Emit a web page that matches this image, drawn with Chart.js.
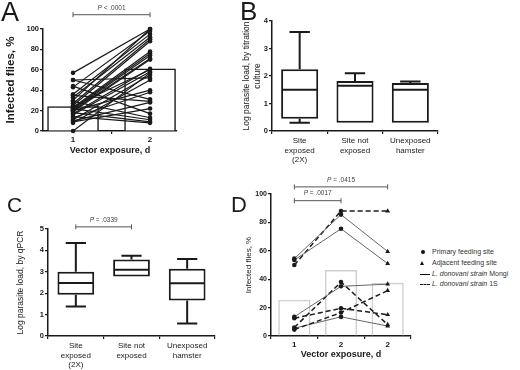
<!DOCTYPE html>
<html>
<head>
<meta charset="utf-8">
<script src="https://cdn.jsdelivr.net/npm/chart.js@4.4.1/dist/chart.umd.min.js"></script>
<style>
  html, body { margin: 0; padding: 0; background: #fff; }
  #wrap { position: relative; width: 520px; height: 370px; overflow: hidden; font-family: "Liberation Sans", Arial, sans-serif; color: #1a1a1a; }
  canvas { position: absolute; }
  .letter { position: absolute; line-height: 1; font-weight: normal; }
  .lg { position: absolute; left: 419px; height: 10px; line-height: 10px; font-size: 7px; white-space: nowrap; color: #333; }
  .lg .mk { display: inline-block; width: 13px; position: relative; height: 10px; vertical-align: top; }
  .dot { position: absolute; left: 2px; top: 3px; width: 4px; height: 4px; border-radius: 50%; background: #111; }
  .tri { position: absolute; left: 1px; top: 2.5px; width: 0; height: 0; border-left: 2.5px solid transparent; border-right: 2.5px solid transparent; border-bottom: 4.5px solid #111; }
  .solid { position: absolute; left: 1px; top: 4.5px; width: 10px; border-top: 1.5px solid #111; }
  .dash { position: absolute; left: 1px; top: 4.5px; width: 10px; border-top: 1.5px dashed #111; }
</style>
</head>
<body>
<div id="wrap">
  <canvas id="chartA" width="200" height="158" style="left:0;top:0"></canvas>
  <canvas id="chartB" width="240" height="172" style="left:238px;top:0"></canvas>
  <canvas id="chartC" width="240" height="190" style="left:0;top:180px"></canvas>
  <canvas id="chartD" width="176" height="190" style="left:240px;top:172px"></canvas>

  <div class="letter" style="left:1px;top:-1px;font-size:27px">A</div>
  <div class="letter" style="left:240px;top:-2px;font-size:26px">B</div>
  <div class="letter" style="left:7px;top:194px;font-size:21px">C</div>
  <div class="letter" style="left:231px;top:194px;font-size:22px">D</div>

  <div class="lg" style="top:247px"><span class="mk"><span class="dot"></span></span>Primary feeding site</div>
  <div class="lg" style="top:258px"><span class="mk"><span class="tri"></span></span>Adjacent feeding site</div>
  <div class="lg" style="top:269px"><span class="mk"><span class="solid"></span></span><i>L. donovani strain</i> Mongi</div>
  <div class="lg" style="top:279px"><span class="mk"><span class="dash"></span></span><i>L. donovani strain</i> 1S</div>
</div>

<script>
// ---- Panel A: paired infection rates ----
const daysA = [1, 2];
const barA = [24, 61];
const day1A = [57, 50, 50, 44, 43, 36, 35, 33, 30, 29, 27, 25, 24, 23, 22, 22, 21, 20, 20, 19, 18, 17, 16, 14, 13, 11, 10, 9, 8, 0];
const day2A = [100, 52, 31, 17, 98, 95, 29, 92, 100, 13, 90, 88, 60, 78, 76, 11, 74, 71, 40, 70, 9, 61, 58, 8, 38, 55, 28, 22, 50, 57];
const yTicksA = [0, 20, 40, 60, 80, 100];

// ---- Panel B: titration culture box plots ----
const groupsB = [['Site', 'exposed', '(2X)'], ['Site not', 'exposed'], ['Unexposed', 'hamster']];
const minB = [0.3, 0.3, 0.3];
const q1B = [0.45, 0.3, 0.3];
const medB = [1.5, 1.65, 1.5];
const q3B = [2.25, 1.82, 1.75];
const maxB = [3.6, 2.1, 1.8];
const yTicksB = [0, 1, 2, 3, 4];

// ---- Panel C: qPCR box plots ----
const groupsC = [['Site', 'exposed', '(2X)'], ['Site not', 'exposed'], ['Unexposed', 'hamster']];
const minC = [1.38, 2.78, 0.58];
const q1C = [1.93, 2.78, 1.66];
const medC = [2.48, 3.09, 2.46];
const q3C = [3.0, 3.57, 3.14];
const maxC = [4.35, 3.75, 3.6];
const yTicksC = [0, 1, 2, 3, 4, 5];

// ---- Panel D: feeding sites by strain ----
const daysD = ['1', '2', '2'];
const barD = [25.5, 46.5, 37.5];
const linesD = [
  [54.5, 85.5, 59.5],
  [53.5, 75.5, 51],
  [50, 88, 88],
  [13.5, 35, 36.5],
  [6, 38, 8],
  [12.5, 19.5, 15],
  [4.5, 16.5, 32],
  [5.5, 13.5, 7]
];
const strainD = ['Mongi', 'Mongi', '1S', 'Mongi', '1S', '1S', '1S', 'Mongi'];
const siteD = ['circle', 'circle', 'triangle'];
const yTicksD = [0, 20, 40, 60, 80, 100];

// p-value brackets: [from, to, y value, label]
const pA = [[1, 2, 114, '< .0001']];
const pC = [[0, 1, 5.1, '= .0339']];
const pD = [[0, 1, 95.3, '= .0017'], [0, 2, 105, '= .0415']];

Chart.defaults.font.family = '"Liberation Sans", Arial, sans-serif';
Chart.defaults.color = '#1a1a1a';
Chart.defaults.animation = false;

const ink = '#1a1a1a';

function axis(tickSize, extra) {
  return Object.assign({
    ticks: { font: { size: tickSize, weight: 'bold' }, color: ink, padding: 1 },
    grid: { drawOnChartArea: false, drawTicks: true, tickLength: 3, color: ink, lineWidth: 1.2 },
    border: { display: true, color: ink, width: 1.5 }
  }, extra);
}

const setTicks = arr => s => { s.ticks = arr.map(v => ({ value: v })); };

const brackets = {
  id: 'brackets',
  afterDraw(chart, args, opts) {
    const { ctx } = chart;
    const x = chart.scales.x, y = chart.scales.y;
    (opts.items || []).forEach(([from, to, at, txt]) => {
      const x1 = x.getPixelForValue(from), x2 = x.getPixelForValue(to), yy = y.getPixelForValue(at);
      ctx.save();
      ctx.strokeStyle = '#555';
      ctx.lineWidth = 1;
      ctx.beginPath();
      ctx.moveTo(x1, yy - 2.5); ctx.lineTo(x1, yy + 2.5);
      ctx.moveTo(x1, yy); ctx.lineTo(x2, yy);
      ctx.moveTo(x2, yy - 2.5); ctx.lineTo(x2, yy + 2.5);
      ctx.stroke();
      // italic P then the rest
      ctx.fillStyle = '#444';
      ctx.textBaseline = 'middle';
      const f = '"Liberation Sans", Arial, sans-serif';
      ctx.font = 'italic 6.5px ' + f;
      const wP = ctx.measureText('P ').width;
      ctx.font = '6.5px ' + f;
      const wR = ctx.measureText(txt).width;
      let sx = (x1 + x2) / 2 - (wP + wR) / 2;
      ctx.font = 'italic 6.5px ' + f;
      ctx.fillText('P ', sx, yy - 7);
      ctx.font = '6.5px ' + f;
      ctx.fillText(txt, sx + wP, yy - 7);
      ctx.restore();
    });
  }
};

const whiskers = {
  id: 'whiskers',
  afterDatasetsDraw(chart, args, opts) {
    if (!opts.med) return;
    const { ctx } = chart;
    const y = chart.scales.y;
    const meta = chart.getDatasetMeta(0);
    meta.data.forEach((bar, i) => {
      const half = bar.width / 2, cap = half * 0.55;
      const yMed = y.getPixelForValue(opts.med[i]);
      const yQ1 = y.getPixelForValue(opts.q1[i]), yQ3 = y.getPixelForValue(opts.q3[i]);
      const yMin = y.getPixelForValue(opts.min[i]), yMax = y.getPixelForValue(opts.max[i]);
      ctx.save();
      ctx.strokeStyle = ink;
      ctx.lineWidth = 2;
      ctx.beginPath();
      ctx.moveTo(bar.x - half + 1, yMed); ctx.lineTo(bar.x + half - 1, yMed);
      if (yMax < yQ3 - 0.5) {
        ctx.moveTo(bar.x, yQ3); ctx.lineTo(bar.x, yMax);
        ctx.moveTo(bar.x - cap, yMax); ctx.lineTo(bar.x + cap, yMax);
      }
      if (yMin > yQ1 + 0.5) {
        ctx.moveTo(bar.x, yQ1); ctx.lineTo(bar.x, yMin);
        ctx.moveTo(bar.x - cap, yMin); ctx.lineTo(bar.x + cap, yMin);
      }
      ctx.stroke();
      ctx.restore();
    });
  }
};

const noLegend = { legend: { display: false }, tooltip: { enabled: false } };

// Panel A
new Chart(document.getElementById('chartA'), {
  type: 'bar',
  data: {
    datasets: [
      ...day1A.map((v, i) => ({
        type: 'line',
        data: [{ x: daysA[0], y: v }, { x: daysA[1], y: day2A[i] }],
        borderColor: ink, borderWidth: 1.2,
        pointRadius: 2.3, pointBackgroundColor: ink, pointBorderColor: ink, pointBorderWidth: 0,
        clip: false, order: 0
      })),
      {
        type: 'bar',
        data: daysA.map((d, i) => ({ x: d, y: barA[i] })),
        barThickness: 51, backgroundColor: '#fff', borderColor: ink, borderWidth: 1.5,
        order: 1
      }
    ]
  },
  options: {
    responsive: false,
    layout: { padding: { top: 29, right: 23, left: 0, bottom: 0 } },
    plugins: Object.assign({ brackets: { items: pA } }, noLegend),
    scales: {
      x: axis(8, {
        type: 'linear', min: 0.61, max: 2.35, offset: false,
        afterBuildTicks: setTicks(daysA),
        title: { display: true, text: 'Vector exposure, d', font: { size: 9, weight: 'bold' }, color: ink, padding: { top: 2, bottom: 2 } },
        afterFit: s => { s.height = 27; }
      }),
      y: axis(7.5, {
        min: 0, max: 100,
        afterBuildTicks: setTicks(yTicksA),
        title: { display: true, text: 'Infected flies, %', font: { size: 11.5, weight: 'bold' }, color: ink, padding: { top: 4, bottom: 2 } },
        afterFit: s => { s.width = 43; }
      })
    }
  },
  plugins: [brackets]
});

// Panel B
new Chart(document.getElementById('chartB'), {
  type: 'bar',
  data: {
    labels: groupsB,
    datasets: [{
      data: q1B.map((v, i) => [v, q3B[i]]),
      backgroundColor: '#fff', borderColor: ink, borderWidth: 2, borderSkipped: false,
      categoryPercentage: 1, barPercentage: 0.67
    }]
  },
  options: {
    responsive: false,
    layout: { padding: { top: 21, right: 40, left: 0, bottom: 0 } },
    plugins: Object.assign({ whiskers: { min: minB, q1: q1B, med: medB, q3: q3B, max: maxB } }, noLegend),
    scales: {
      x: axis(8, {
        ticks: { font: { size: 8 }, color: '#222', padding: 2 },
        afterFit: s => { s.height = 41; }
      }),
      y: axis(7.5, {
        min: 0, max: 4,
        afterBuildTicks: setTicks(yTicksB),
        title: { display: true, text: ['Log parasite load, by titration', 'culture'], font: { size: 8.5 }, color: '#222', padding: { top: 4, bottom: 0 } },
        afterFit: s => { s.width = 34; }
      })
    }
  },
  plugins: [whiskers]
});

// Panel C
new Chart(document.getElementById('chartC'), {
  type: 'bar',
  data: {
    labels: groupsC,
    datasets: [{
      data: q1C.map((v, i) => [v, q3C[i]]),
      backgroundColor: '#fff', borderColor: ink, borderWidth: 2, borderSkipped: false,
      categoryPercentage: 1, barPercentage: 0.66
    }]
  },
  options: {
    responsive: false,
    layout: { padding: { top: 49, right: 25, left: 12, bottom: 0 } },
    plugins: Object.assign({ whiskers: { min: minC, q1: q1C, med: medC, q3: q3C, max: maxC }, brackets: { items: pC } }, noLegend),
    scales: {
      x: axis(8, {
        ticks: { font: { size: 8 }, color: '#222', padding: 2 },
        afterFit: s => { s.height = 34; }
      }),
      y: axis(7.5, {
        min: 0, max: 5,
        afterBuildTicks: setTicks(yTicksC),
        title: { display: true, text: 'Log parasite load, by qPCR', font: { size: 8.5 }, color: '#222', padding: { top: 4, bottom: 2 } },
        afterFit: s => { s.width = 36; }
      })
    }
  },
  plugins: [whiskers, brackets]
});

// Panel D
new Chart(document.getElementById('chartD'), {
  type: 'bar',
  data: {
    labels: daysD,
    datasets: [
      ...linesD.map((vals, i) => ({
        type: 'line',
        data: vals,
        borderColor: strainD[i] === '1S' ? ink : '#666',
        borderWidth: strainD[i] === '1S' ? 1.5 : 1,
        borderDash: strainD[i] === '1S' ? [5, 3] : [],
        pointStyle: siteD,
        pointRadius: siteD.map(s => s === 'triangle' ? 2.8 : 2.3),
        pointBackgroundColor: ink, pointBorderColor: ink, pointBorderWidth: 0,
        clip: false, order: 0
      })),
      {
        type: 'bar',
        data: barD,
        backgroundColor: 'rgba(0,0,0,0)', borderColor: '#cfcfcf', borderWidth: 1.5,
        categoryPercentage: 1, barPercentage: 0.69, order: 1
      }
    ]
  },
  options: {
    responsive: false,
    layout: { padding: { top: 22, right: 5, left: 0, bottom: 0 } },
    plugins: Object.assign({ brackets: { items: pD } }, noLegend),
    scales: {
      x: axis(8, {
        title: { display: true, text: 'Vector exposure, d', font: { size: 9, weight: 'bold' }, color: ink, padding: { top: 2, bottom: 2 } },
        afterFit: s => { s.height = 26; }
      }),
      y: axis(7, {
        min: 0, max: 100,
        afterBuildTicks: setTicks(yTicksD),
        title: { display: true, text: 'Infected flies, %', font: { size: 8 }, color: '#222', padding: { top: 4, bottom: 2 } },
        afterFit: s => { s.width = 31; }
      })
    }
  },
  plugins: [brackets]
});
</script>
</body>
</html>
